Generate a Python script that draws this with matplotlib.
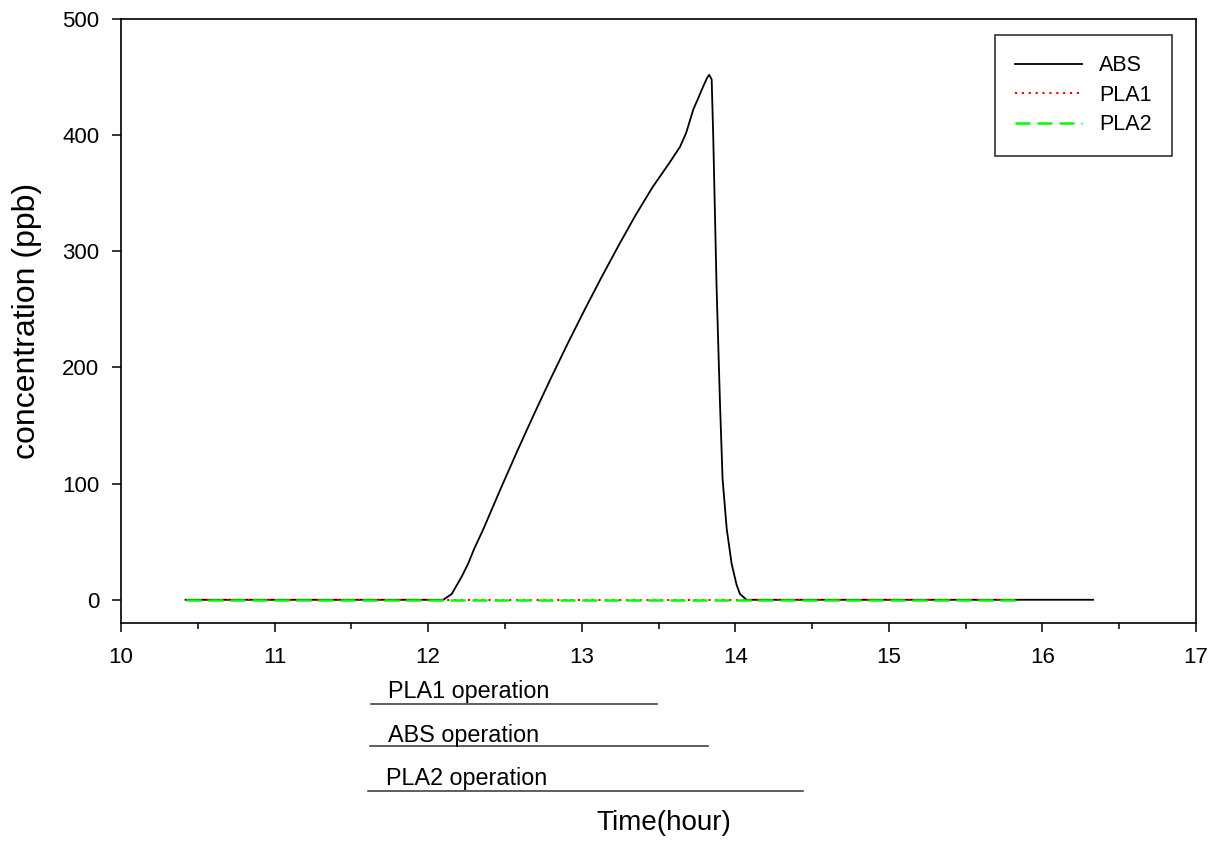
import numpy as np
import matplotlib
matplotlib.use('Agg')
import matplotlib.pyplot as plt
from matplotlib.ticker import MultipleLocator

plt.rcParams['font.family'] = ['Liberation Sans', 'DejaVu Sans']

# ABS concentration curve (hour, ppb)
abs_time = [10.42, 11.0, 11.5, 12.0, 12.098, 12.153, 12.218, 12.261, 12.30, 12.36, 12.47,
            12.58, 12.69, 12.80, 12.91, 13.02, 13.13, 13.24, 13.35, 13.46, 13.57,
            13.64, 13.68, 13.726, 13.759, 13.791, 13.815, 13.830, 13.846, 13.856, 13.878,
            13.900, 13.917, 13.944, 13.976, 14.008, 14.030, 14.074, 15.0, 16.0, 16.33]
abs_conc = [0, 0, 0, 0, 0, 4.9, 19.8, 31.3, 44, 61, 95,
            128, 160, 191, 221, 250, 278, 305, 331, 355, 376,
            390, 402, 422, 432, 442, 449, 452, 448, 400, 269,
            170, 104, 61, 31, 13, 5, 0, 0, 0, 0]

# PLA1 / PLA2 stay at zero
pla_time = [10.42, 11.0, 12.0, 13.0, 14.0, 15.0, 15.83]
pla1_conc = [0, 0, 0, 0, 0, 0, 0]
pla2_conc = [0, 0, 0, 0, 0, 0, 0]

# operation periods shown under the axis
op_labels = ['PLA1 operation', 'ABS operation', 'PLA2 operation']
op_start = [11.63, 11.62, 11.61]
op_end = [13.49, 13.82, 14.44]
op_text_x = [11.738, 11.738, 11.725]

fig = plt.figure(figsize=(12.15, 8.42), dpi=100)
ax = fig.add_axes([0.0996, 0.2601, 0.8848, 0.7173])

ax.plot(abs_time, abs_conc, color='black', lw=1.3, label='ABS')
ax.plot(pla_time, pla1_conc, color='red', lw=1.5, ls=(0, (1, 2.3)), label='PLA1')
ax.plot(pla_time, pla2_conc, color='#00ff00', lw=1.8, ls=(0, (6, 2.8)), label='PLA2')

ax.set_xlim(10, 17)
ax.set_ylim(-20, 500)
ax.xaxis.set_major_locator(MultipleLocator(1))
ax.xaxis.set_minor_locator(MultipleLocator(0.5))
ax.yaxis.set_major_locator(MultipleLocator(100))
ax.tick_params(axis='both', which='major', direction='out', length=6.5, width=1.1,
               labelsize=16, top=False, right=False)
ax.tick_params(axis='x', which='major', pad=11)
ax.tick_params(axis='y', which='major', pad=9)
ax.tick_params(axis='x', which='minor', direction='out', length=4, width=1.1, top=False)
for sp in ax.spines.values():
    sp.set_linewidth(1.2)

ax.set_xlabel('Time(hour)', fontsize=20)
ax.set_ylabel('concentration (ppb)', fontsize=23)
ax.xaxis.set_label_coords(0.5047, -0.31)
ax.yaxis.set_label_coords(-0.0735, 0.5)

leg = ax.legend(loc='upper right', bbox_to_anchor=(0.978, 0.974), borderaxespad=0,
                fontsize=15.5, frameon=True, fancybox=False, edgecolor='black',
                handlelength=3.1, handletextpad=0.8, labelspacing=0.4,
                borderpad=0.95)
leg.get_frame().set_linewidth(1.2)

# operation bars below the axis (data x, y in ppb units below the axis)
line_y = [-89.5, -125.6, -164.4]
text_y = [-84.3, -122.2, -159.2]
for lab, s, e, tx, ly, ty in zip(op_labels, op_start, op_end, op_text_x, line_y, text_y):
    ax.plot([s, e], [ly, ly], color='#333333', lw=1.1, clip_on=False)
    ax.text(tx, ty, lab, fontsize=16.8, va='baseline', ha='left', clip_on=False)

fig.savefig('out.png', dpi=100)
